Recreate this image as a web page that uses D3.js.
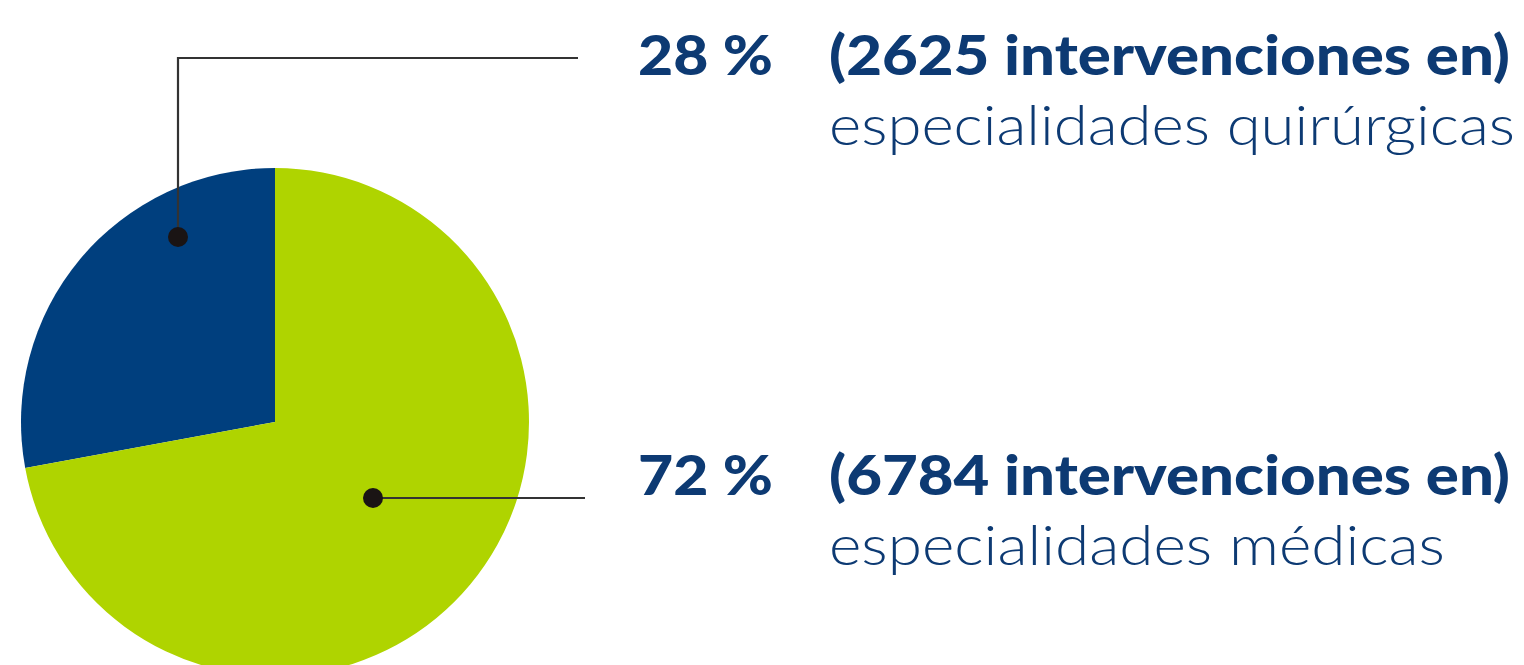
<!DOCTYPE html>
<html>
<head>
<meta charset="utf-8">
<script src="https://cdn.jsdelivr.net/npm/d3@7"></script>
<style>
    html, body { margin: 0; padding: 0; background: #ffffff; }
    svg { display: block; }
</style>
</head>
<body>
<svg id="drawing_region"></svg>
<script>
// data
const categories = ["especialidades quirúrgicas", "especialidades médicas"];
const counts = [2625, 6784];
const percents = ["28 %", "72 %"];
const colors = ["#003f7e", "#afd400"];

var config = {
    parent: '#drawing_region',
    width: 1524,
    height: 665,
    cx: 275,
    cy: 422,
    radius: 254
};

const svg = d3.select(config.parent)
    .attr('width', config.width)
    .attr('height', config.height);

const data = categories.map((c, i) => ({ label: c, value: counts[i], pct: percents[i], color: colors[i] }));

// blue slice runs counter-clockwise from 12 o'clock
const pie = d3.pie()
    .sort(null)
    .value(d => d.value)
    .startAngle(0)
    .endAngle(-2 * Math.PI);

const arc = d3.arc()
    .innerRadius(0)
    .outerRadius(config.radius);

const chart = svg.append('g')
    .attr('transform', `translate(${config.cx}, ${config.cy})`);

chart.selectAll('path')
    .data(pie(data))
    .join('path')
    .attr('d', arc)
    .attr('fill', d => d.data.color);

// leader lines and dots
const leaders = [
    { points: [[178, 237], [178, 58], [578, 58]] },
    { points: [[373, 498], [585, 498]] }
];

svg.selectAll('.leader')
    .data(leaders)
    .join('polyline')
    .attr('class', 'leader')
    .attr('points', d => d.points.map(p => p.join(',')).join(' '))
    .attr('fill', 'none')
    .attr('stroke', '#333333')
    .attr('stroke-width', 2.2);

svg.selectAll('.dot')
    .data(leaders)
    .join('circle')
    .attr('class', 'dot')
    .attr('cx', d => d.points[0][0])
    .attr('cy', d => d.points[0][1])
    .attr('r', 10)
    .attr('fill', '#1a1414');

// text blocks
const blocks = [
    { y: 75, y2: 145, w2: 686 },
    { y: 495, y2: 565, w2: 616 }
];
const textColor = '#0d3a73';
const font = 'Lato, "Noto Sans", sans-serif';

const g = svg.selectAll('.block')
    .data(data)
    .join('g')
    .attr('class', 'block');

g.append('text')
    .attr('x', 638)
    .attr('y', (d, i) => blocks[i].y)
    .attr('font-family', font)
    .attr('font-weight', 900)
    .attr('font-size', 55)
    .attr('textLength', 135)
    .attr('lengthAdjust', 'spacingAndGlyphs')
    .attr('fill', textColor)
    .text(d => d.pct);

g.append('text')
    .attr('x', 829)
    .attr('y', (d, i) => blocks[i].y)
    .attr('font-family', font)
    .attr('font-weight', 900)
    .attr('font-size', 55)
    .attr('textLength', 681)
    .attr('lengthAdjust', 'spacingAndGlyphs')
    .attr('fill', textColor)
    .text(d => `(${d.value} intervenciones en)`);

g.append('text')
    .attr('x', 829)
    .attr('y', (d, i) => blocks[i].y2)
    .attr('font-family', font)
    .attr('font-weight', 300)
    .attr('font-size', 55)
    .attr('textLength', (d, i) => blocks[i].w2)
    .attr('lengthAdjust', 'spacingAndGlyphs')
    .attr('fill', textColor)
    .text(d => d.label);
</script>
</body>
</html>
